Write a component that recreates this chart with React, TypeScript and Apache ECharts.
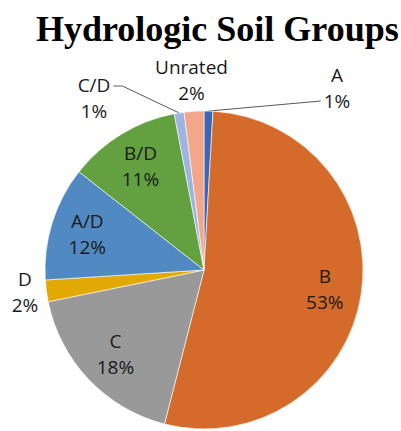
import React, { useEffect, useRef } from "react";
import * as echarts from "echarts";

const categories = ["A", "B", "C", "D", "A/D", "B/D", "C/D", "Unrated"];
const shares = [0.9, 53.1, 17.8, 2.2, 11.6, 11.4, 1.0, 2.0];
const colors = ["#3B66B5", "#D46B2B", "#999999", "#E2A804", "#5189C2", "#63A040", "#9DB3E0", "#F2A68C"];
const insideLabelled = ["B", "C", "A/D", "B/D"];
const leaderLined = ["A", "C/D"];
// where the outside labels sit (centre of the two-line text block)
const outsidePlacement: Record<string, [number, number]> = {
  A: [337, 88],
  D: [25, 292],
  "C/D": [94, 98],
  Unrated: [191.5, 80],
};

const TITLE = "Hydrologic Soil Groups";
const LABEL_FONT = "'Open Sans', sans-serif";

export default function App() {
  const ref = useRef<HTMLDivElement>(null);
  useEffect(() => {
    document.body.style.margin = "0";
    if (!ref.current) return;
    const chart = echarts.init(ref.current, null, { renderer: "svg" });
    const center = [204, 270];
    const radius = 159;
    const labelText = {
      fontFamily: LABEL_FONT,
      fontSize: 19,
      lineHeight: 26,
      color: "#1a1a1a",
      align: "center" as const,
    };
    chart.setOption({
      animation: false,
      backgroundColor: "#ffffff",
      title: {
        text: TITLE,
        left: 31,
        top: 6,
        textStyle: {
          fontFamily: "'Liberation Serif', 'Times New Roman', serif",
          fontWeight: "bold",
          fontSize: 36,
          color: "#000000",
        },
      },
      series: [
        {
          type: "pie",
          center,
          radius,
          startAngle: 90,
          clockwise: true,
          avoidLabelOverlap: false,
          percentPrecision: 0,
          silent: true,
          itemStyle: { borderColor: "#ffffff", borderWidth: 0.6 },
          emphasis: { disabled: true },
          label: {
            position: "outside",
            formatter: "{b}\n{d}%",
            ...labelText,
          },
          labelLine: {
            show: false,
            length: 10,
            length2: 10,
            lineStyle: { color: "#595959", width: 1 },
          },
          labelLayout: (params: any) => {
            const name = categories[params.dataIndex];
            const p = outsidePlacement[name];
            if (!p) return {};
            const res: any = { x: p[0], y: p[1], align: "center", verticalAlign: "middle" };
            const pts = params.labelLinePoints;
            const w = params.labelRect.width;
            const h = params.labelRect.height;
            if (pts && name === "A") {
              res.labelLinePoints = [pts[0], [p[0] - w / 2 - 3, p[1] + h / 4]];
            }
            if (pts && name === "C/D") {
              res.labelLinePoints = [
                pts[0],
                [p[0] + w / 2 + 12, p[1] - h / 4 + 1],
                [p[0] + w / 2 + 3, p[1] - h / 4 + 1],
              ];
            }
            return res;
          },
          data: categories.map((name, i) => ({
            name,
            value: shares[i],
            itemStyle: { color: colors[i] },
            label: { show: !insideLabelled.includes(name) },
            labelLine: { show: leaderLined.includes(name) },
          })),
        },
        {
          type: "pie",
          center,
          radius: [radius / 2, radius],
          startAngle: 90,
          clockwise: true,
          avoidLabelOverlap: false,
          percentPrecision: 0,
          silent: true,
          emphasis: { disabled: true },
          itemStyle: { color: "rgba(0,0,0,0)" },
          label: {
            position: "inside",
            formatter: "{b}\n{d}%",
            ...labelText,
          },
          labelLine: { show: false },
          data: categories.map((name, i) => ({
            name,
            value: shares[i],
            label: { show: insideLabelled.includes(name) },
          })),
        },
      ],
    });
    return () => chart.dispose();
  }, []);
  return <div ref={ref} style={{ width: 401, height: 431 }} />;
}
